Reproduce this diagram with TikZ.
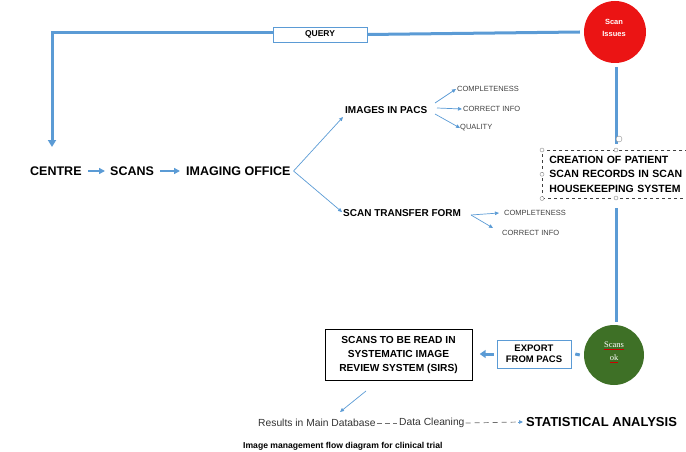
\documentclass[tikz,border=0pt]{standalone}
\usepackage{fontspec}
\setmainfont{Liberation Sans}
\newfontfamily\serifcirc{Liberation Serif}
\usetikzlibrary{arrows.meta}
\definecolor{flowblue}{RGB}{91,155,213}
\definecolor{issuered}{RGB}{235,20,20}
\definecolor{okgreen}{RGB}{62,112,38}
\definecolor{dashgray}{RGB}{110,110,110}
\tikzset{
  bigtxt/.style={font=\bfseries\fontsize{12.5}{14}\selectfont, inner sep=1pt},
  midtxt/.style={font=\bfseries\fontsize{10}{13.5}\selectfont, inner sep=1pt},
  smalltxt/.style={font=\fontsize{7.5}{9}\selectfont, inner sep=1pt, text=black!75},
  bottxt/.style={font=\fontsize{10.3}{12}\selectfont, text=black!80, anchor=west, inner sep=0pt},
  thickflow/.style={draw=flowblue, line width=3pt},
  mainarrow/.style={draw=flowblue, line width=2.2pt, -{Triangle[length=6pt,width=6pt]}},
  thinarrow/.style={draw=flowblue, line width=0.7pt, -{Triangle[length=4pt,width=3.5pt]}},
  handle/.style={circle, draw=black!45, fill=white, line width=0.4pt, minimum size=4pt, inner sep=0pt},
  circtxt/.style={text=white, inner sep=0pt},
}
\begin{document}
\begin{tikzpicture}[x=1pt,y=-1pt]
\useasboundingbox (0,0) rectangle (686,452);

% main row
\node[bigtxt, anchor=west] (centre) at (29,171) {CENTRE};
\node[bigtxt, anchor=west] (scans) at (109,171) {SCANS};
\node[bigtxt, anchor=west] (imaging) at (185,171) {IMAGING OFFICE};
\draw[mainarrow] ([xshift=5pt]centre.east) -- ([xshift=-4pt]scans.west);
\draw[mainarrow] ([xshift=5pt]scans.east) -- ([xshift=-5pt]imaging.west);

% query loop
\node[circle, fill=issuered, minimum size=62pt, inner sep=0pt] (issues) at (615,32) {};
\node[circtxt, font=\bfseries\fontsize{7.5}{9}\selectfont] (issuesa) at (614,22) {Scan};
\node[circtxt, font=\bfseries\fontsize{7.5}{9}\selectfont] (issuesb) at (614,34) {Issues};
\node[draw=flowblue, line width=0.6pt, fill=white, minimum width=94pt, minimum height=15pt,
      font=\bfseries\fontsize{8.5}{9}\selectfont, inner sep=1pt] (query) at (320,34.5) {QUERY};
\coordinate (loopcorner) at (52,33);
\coordinate (loopend) at (52,147);
\draw[thickflow] ([xshift=-4pt]issues.west) -- (query.east);
\draw[thickflow, -{Triangle[length=7pt,width=8pt]}] (query.west |- loopcorner) -- (loopcorner) -- (loopend);

% branches
\node[midtxt, anchor=west] (pacs) at (344,110) {IMAGES IN PACS};
\node[midtxt, anchor=west] (stf) at (342,213) {SCAN TRANSFER FORM};
\coordinate (pacsin) at (343,117);
\coordinate (stfin) at (342,212);
\draw[thinarrow] ([xshift=2pt]imaging.east) -- (pacsin);
\draw[thinarrow] ([xshift=2pt]imaging.east) -- (stfin);

\node[smalltxt, anchor=west] (comp1) at (456,89) {COMPLETENESS};
\node[smalltxt, anchor=west] (corr1) at (462,109) {CORRECT INFO};
\node[smalltxt, anchor=west] (qual) at (459,128) {QUALITY};
\draw[thinarrow] (435,103) -- (comp1.west);
\draw[thinarrow] (437,108) -- (corr1.west);
\draw[thinarrow] (435,114) -- ([xshift=1pt]qual.west);

\node[smalltxt, anchor=west] (comp2) at (503,213) {COMPLETENESS};
\node[smalltxt, anchor=west] (corr2) at (501,233) {CORRECT INFO};
\draw[thinarrow] (471,215) -- ([xshift=-4pt]comp2.west);
\draw[thinarrow] (471,215) -- (493,228);

% creation box
\node[draw=black!75, dashed, line width=0.5pt, fill=white, anchor=north west,
      minimum width=160pt, minimum height=48pt, inner xsep=7pt, align=left,
      font=\bfseries\fontsize{10.5}{14.2}\selectfont, text width=146pt] (creation) at (542,150)
      {CREATION OF PATIENT\\SCAN RECORDS IN SCAN\\HOUSEKEEPING SYSTEM};
\coordinate (ctop) at (616,150);
\coordinate (cbot) at (616,198);
\draw[thickflow] ([yshift=-4pt]issues.south -| ctop) -- ([yshift=6pt]ctop);
\node[handle] (h1) at (creation.north west) {};
\node[handle] (h2) at (ctop) {};
\node[handle] (h3) at (creation.west) {};
\node[handle] (h4) at (creation.south west) {};
\node[handle] (h5) at (cbot) {};
\node[handle, minimum size=6pt] (rot) at (619,139) {};

% ok circle
\node[circle, fill=okgreen, minimum size=60pt, inner sep=0pt] (ok) at (614,355) {};
\node[circtxt, font=\serifcirc\fontsize{8.5}{10}\selectfont] (oka) at (614,345) {Scans};
\node[circtxt, font=\serifcirc\fontsize{8.5}{10}\selectfont] (okb) at (614,357.5) {ok};
\draw[red!80!black, line width=0.6pt] ([yshift=-1.5pt]oka.south west) -- ([yshift=-1.5pt]oka.south east);
\draw[red!80!black, line width=0.6pt] ([yshift=-1.5pt]okb.south west) -- ([yshift=-1.5pt]okb.south east);
\draw[thickflow] ([yshift=-10pt]cbot) -- ([yshift=3pt]ok.north -| cbot);

% export
\node[draw=flowblue, line width=0.6pt, minimum width=74pt, minimum height=28pt, align=center,
      font=\bfseries\fontsize{9.5}{11}\selectfont, inner sep=1pt] (export) at (534,354) {EXPORT\\FROM PACS};
\draw[thickflow] ([xshift=-4pt]ok.west) -- ([xshift=4pt]export.east);
\draw[thickflow, -{Triangle[length=6pt,width=8pt]}] ([xshift=-3pt]export.west) -- ++(-14,0) coordinate (expend);

% SIRS
\node[draw=black, line width=0.8pt, minimum width=147pt, minimum height=51pt, align=center,
      font=\bfseries\fontsize{10.2}{14}\selectfont, inner sep=1pt] (sirs) at (398.5,354.5)
      {SCANS TO BE READ IN\\SYSTEMATIC IMAGE\\REVIEW SYSTEM (SIRS)};

% bottom row
\node[bottxt] (results) at (258,423) {Results in Main Database};
\node[bottxt] (clean) at (399,423) {Data Cleaning};
\node[font=\bfseries\fontsize{13}{14}\selectfont, anchor=west, inner sep=0pt] (stat) at (526,422) {STATISTICAL ANALYSIS};
\coordinate (resin) at (340,412);
\draw[thinarrow] (366,391) -- (resin);
\draw[dashgray, line width=0.7pt, dash pattern=on 5pt off 3pt] ([xshift=1pt]results.east) -- ([xshift=-2pt]clean.west);
\draw[dashgray, line width=0.7pt, dash pattern=on 5pt off 4pt] ([xshift=1pt]clean.east) -- ([xshift=-6pt]stat.west);
\draw[thinarrow] ([xshift=-8pt]stat.west) -- ([xshift=-3pt]stat.west);

% caption
\node[font=\bfseries\fontsize{8.6}{10}\selectfont, anchor=west, inner sep=1pt] (caption) at (242,446)
      {Image management flow diagram for clinical trial};
\end{tikzpicture}
\end{document}
